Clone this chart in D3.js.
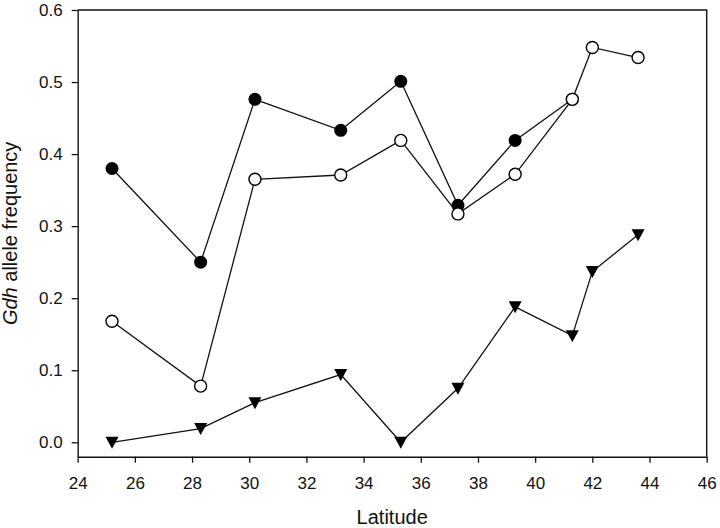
<!DOCTYPE html>
<html>
<head>
<meta charset="utf-8">
<script src="https://cdn.jsdelivr.net/npm/d3@7"></script>
<style>
  html, body { margin: 0; padding: 0; background: #fff; }
  svg { display: block; font-family: "Liberation Sans", Arial, sans-serif; }
</style>
</head>
<body>
<svg id="chart" width="720" height="528"></svg>
<script>
// Data
const filledLat  = [25.2, 28.3, 30.2, 33.2, 35.3, 37.3, 39.3, 41.3];
const filledFreq = [0.380, 0.250, 0.476, 0.433, 0.501, 0.329, 0.419, 0.476];

const openLat  = [25.2, 28.3, 30.2, 33.2, 35.3, 37.3, 39.3, 41.3, 42.0, 43.6];
const openFreq = [0.168, 0.078, 0.365, 0.371, 0.419, 0.317, 0.372, 0.476, 0.548, 0.534];

const triLat  = [25.2, 28.3, 30.2, 33.2, 35.3, 37.3, 39.3, 41.3, 42.0, 43.6];
const triFreq = [0.000, 0.019, 0.055, 0.094, 0.000, 0.075, 0.188, 0.148, 0.237, 0.288];

const xTicks = [24, 26, 28, 30, 32, 34, 36, 38, 40, 42, 44, 46];
const yTicks = [0.0, 0.1, 0.2, 0.3, 0.4, 0.5, 0.6];

const svg = d3.select("#chart");
const margin = { left: 77.7, top: 10, right: 13.3, bottom: 71.3 };
const W = 720, H = 528;

const x = d3.scaleLinear().domain([24, 46]).range([margin.left, W - margin.right]);
const y = d3.scaleLinear().domain([-0.02, 0.6]).range([H - margin.bottom, margin.top]);

// frame (top & right)
svg.append("path")
  .attr("d", `M${x(24)},${y(0.6)}H${x(46)}V${y(-0.02)}`)
  .attr("fill", "none").attr("stroke", "#111").attr("stroke-width", 1.4);

const xAxis = svg.append("g")
  .attr("transform", `translate(0,${y(-0.02)})`)
  .call(d3.axisBottom(x).tickValues(xTicks).tickSize(6).tickPadding(14).tickSizeOuter(0).tickFormat(d3.format("d")));
const yAxis = svg.append("g")
  .attr("transform", `translate(${x(24)},0)`)
  .call(d3.axisLeft(y).tickValues(yTicks).tickSize(6).tickPadding(9).tickSizeOuter(0).tickFormat(d3.format(".1f")));

[xAxis, yAxis].forEach(g => {
  g.select(".domain").attr("stroke", "#111").attr("stroke-width", 1.4);
  g.selectAll(".tick line").attr("stroke", "#111").attr("stroke-width", 1.3);
  g.selectAll(".tick text").attr("fill", "#111").style("font-size", "17px")
    .style("font-family", '"Liberation Sans", Arial, sans-serif');
});

// axis titles
svg.append("text")
  .attr("x", (x(24) + x(46)) / 2).attr("y", 524)
  .attr("text-anchor", "middle").attr("fill", "#111")
  .style("font-size", "20px").text("Latitude");

const yt = svg.append("text")
  .attr("transform", `translate(17,${(y(0.6) + y(-0.02)) / 2}) rotate(-90)`)
  .attr("text-anchor", "middle").attr("fill", "#111")
  .style("font-size", "20px");
yt.append("tspan").style("font-style", "italic").text("Gdh");
yt.append("tspan").text(" allele frequency");

const line = d3.line().x(d => x(d[0])).y(d => y(d[1]));
const zip = (a, b) => a.map((v, i) => [v, b[i]]);

const filled = zip(filledLat, filledFreq);
const open = zip(openLat, openFreq);
const tri = zip(triLat, triFreq);

// lines
[filled, open, tri].forEach(data => {
  svg.append("path").datum(data).attr("d", line)
    .attr("fill", "none").attr("stroke", "#111").attr("stroke-width", 1.3);
});

// filled circles
svg.selectAll(".fc").data(filled).enter().append("circle")
  .attr("cx", d => x(d[0])).attr("cy", d => y(d[1])).attr("r", 6.5)
  .attr("fill", "#000");

// open circles
svg.selectAll(".oc").data(open).enter().append("circle")
  .attr("cx", d => x(d[0])).attr("cy", d => y(d[1])).attr("r", 6)
  .attr("fill", "#fff").attr("stroke", "#000").attr("stroke-width", 1.4);

// down triangles
svg.selectAll(".tr").data(tri).enter().append("path")
  .attr("transform", d => `translate(${x(d[0])},${y(d[1])})`)
  .attr("d", "M-6.5,-5.5L6.5,-5.5L0,6.5Z")
  .attr("fill", "#000");
</script>
</body>
</html>
